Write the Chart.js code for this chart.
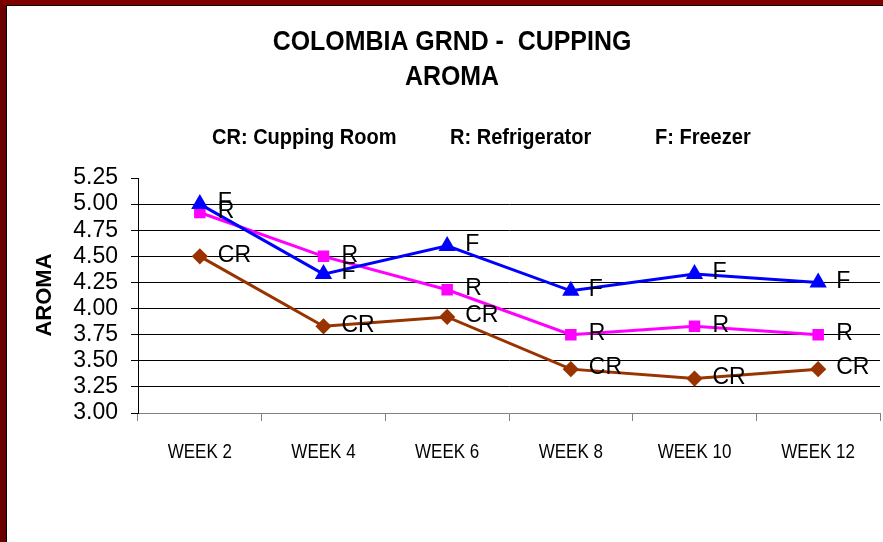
<!DOCTYPE html>
<html>
<head>
<meta charset="utf-8">
<script src="https://cdn.jsdelivr.net/npm/chart.js@4"></script>
<style>
  html, body { margin: 0; padding: 0; background: #fff; }
  #wrap { position: relative; width: 883px; height: 542px; overflow: hidden; }
  canvas { position: absolute; left: 0; top: 0; }
  .bl { position: absolute; left: 0; top: 0; width: 6px; height: 542px; background: #6b0000; }
  .bl2 { position: absolute; left: 6px; top: 5px; width: 1px; height: 537px; background: #000; }
  .bt { position: absolute; left: 0; top: 0; width: 883px; height: 5px; background: #800000; }
  .bt2 { position: absolute; left: 6px; top: 5px; width: 877px; height: 1px; background: #000; }
</style>
</head>
<body>
<div id="wrap">
  <canvas id="c" width="883" height="542"></canvas>
  <div class="bl"></div><div class="bt"></div><div class="bl2"></div><div class="bt2"></div>
</div>
<script>
// ---- data ----
const categories = ['WEEK 2', 'WEEK 4', 'WEEK 6', 'WEEK 8', 'WEEK 10', 'WEEK 12'];
const freezer = [5.00, 4.33, 4.60, 4.17, 4.33, 4.25];
const refrigerator = [4.92, 4.50, 4.18, 3.75, 3.83, 3.75];
const cuppingRoom = [4.50, 3.83, 3.92, 3.42, 3.33, 3.42];
const seriesLabels = ['F', 'R', 'CR'];
const titleLines = ['COLOMBIA GRND -  CUPPING', 'AROMA'];
const keyTexts = ['CR: Cupping Room', 'R: Refrigerator', 'F: Freezer'];
const yTitle = 'AROMA';
const yMin = 3.00, yMax = 5.25, yStep = 0.25;

const SANS = "'Liberation Sans', Arial, sans-serif";

function drawText(ctx, text, x, y, font, sx, align) {
  ctx.save();
  ctx.font = font;
  ctx.textBaseline = 'middle';
  ctx.textAlign = align;
  ctx.translate(x, y);
  ctx.scale(sx, 1);
  ctx.fillText(text, 0, 0);
  ctx.restore();
}

const textPlugin = {
  id: 'texts',
  afterDraw(chart) {
    const ctx = chart.ctx;
    ctx.save();
    ctx.fillStyle = '#000';
    drawText(ctx, titleLines[0], 452, 42, 'bold 28px ' + SANS, 0.89, 'center');
    drawText(ctx, titleLines[1], 452, 77, 'bold 28px ' + SANS, 0.89, 'center');
    const kx = [212, 450, 655];
    keyTexts.forEach((t, i) => drawText(ctx, t, kx[i], 138, 'bold 22px ' + SANS, 0.91, 'left'));
    const xs = chart.scales.x;
    categories.forEach((c, i) => {
      drawText(ctx, c, xs.getPixelForTick(i), 452, '21px ' + SANS, 0.81, 'center');
    });
    ctx.translate(45, 295);
    ctx.rotate(-Math.PI / 2);
    ctx.textAlign = 'center';
    ctx.textBaseline = 'middle';
    ctx.font = 'bold 22px ' + SANS;
    ctx.fillText(yTitle, 0, 0);
    ctx.restore();
  },
  afterDatasetsDraw(chart) {
    const ctx = chart.ctx;
    ctx.save();
    ctx.fillStyle = '#000';
    ctx.font = '23px ' + SANS;
    ctx.textBaseline = 'middle';
    ctx.textAlign = 'left';
    chart.data.datasets.forEach((ds, di) => {
      const meta = chart.getDatasetMeta(di);
      meta.data.forEach(el => {
        ctx.fillText(ds.label, el.x + 18, el.y - 1);
      });
    });
    ctx.restore();
  }
};

new Chart(document.getElementById('c'), {
  type: 'line',
  data: {
    labels: categories,
    datasets: [
      { label: seriesLabels[0], data: freezer, borderColor: '#0000ff', backgroundColor: '#0000ff',
        pointStyle: 'triangle', pointRadius: 7, borderWidth: 3, tension: 0 },
      { label: seriesLabels[1], data: refrigerator, borderColor: '#ff00ff', backgroundColor: '#ff00ff',
        pointStyle: 'rect', pointRadius: 6, borderWidth: 3, tension: 0 },
      { label: seriesLabels[2], data: cuppingRoom, borderColor: '#993300', backgroundColor: '#993300',
        pointStyle: 'rectRot', pointRadius: 6, borderWidth: 3, tension: 0 }
    ]
  },
  options: {
    responsive: false,
    animation: false,
    layout: { autoPadding: false, padding: { top: 178, right: 3, bottom: 0, left: 0 } },
    plugins: { legend: { display: false }, title: { display: false }, tooltip: { enabled: false } },
    elements: { point: { borderWidth: 1, hoverRadius: 6 } },
    scales: {
      x: {
        type: 'category',
        offset: true,
        grid: { display: true, offset: true, drawOnChartArea: false, tickLength: 8, tickColor: '#808080', lineWidth: 1 },
        border: { display: true, color: '#808080', width: 1 },
        ticks: { display: false },
        afterFit(scale) { scale.height = 129; }
      },
      y: {
        min: yMin, max: yMax,
        grid: {
          color: (c) => (c.tick && (c.tick.value >= yMax - 1e-6 || c.tick.value <= yMin + 1e-6)) ? 'rgba(0,0,0,0)' : '#000',
          tickColor: '#000', tickLength: 7, lineWidth: 1
        },
        border: { display: true, color: '#000', width: 1 },
        ticks: { stepSize: yStep, autoSkip: false, color: '#000', font: { family: SANS, size: 23 }, padding: 13,
          callback: (v) => Number(v).toFixed(2) },
        afterFit(scale) { scale.width = 138; }
      }
    }
  },
  plugins: [textPlugin]
});
</script>
</body>
</html>
